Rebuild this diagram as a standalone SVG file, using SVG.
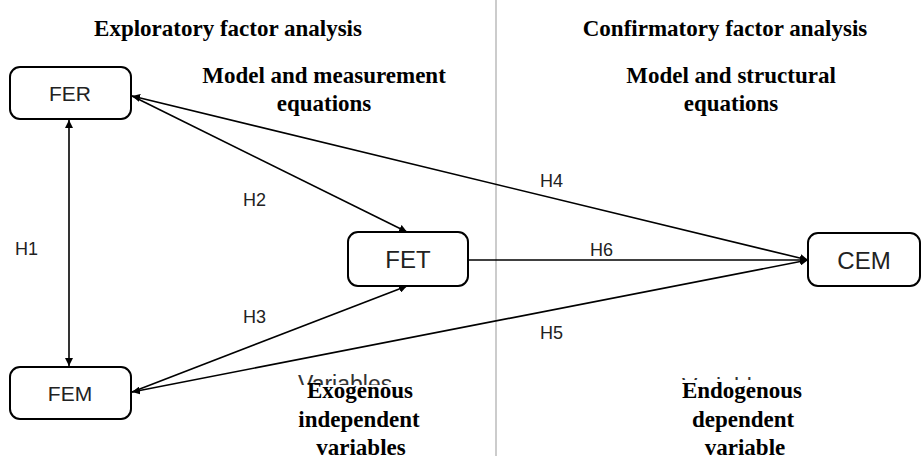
<svg xmlns="http://www.w3.org/2000/svg" width="923" height="463" viewBox="0 0 923 463">
<style>
.node rect{fill:#fff;stroke:#000;stroke-width:2}
.node text{font-family:"Liberation Sans",Arial,sans-serif;fill:#222;text-anchor:middle}
.sm{font-size:21px}
.lg{font-size:24px}
.lbl{font-family:"Liberation Sans",Arial,sans-serif;font-size:18px;fill:#222}
.hd{font-family:"Liberation Serif","Times New Roman",serif;font-weight:bold;font-size:23px;fill:#000;text-anchor:middle}
.ghost{font-family:"Liberation Sans",Arial,sans-serif;font-size:23px;fill:#333}
.conn line{stroke:#000;stroke-width:1.6}
</style>
<defs>
<marker id="ah" viewBox="0 0 10 10" refX="10" refY="5" markerWidth="8" markerHeight="8" orient="auto-start-reverse" markerUnits="userSpaceOnUse">
<path d="M0,0 L10,5 L0,10 z" fill="#000"/>
</marker>
</defs>
<rect width="923" height="463" fill="#fff"/>
<line x1="496" y1="0" x2="496" y2="456" stroke="#999" stroke-width="1"/>
<text class="hd" x="228" y="36">Exploratory factor analysis</text>
<text class="hd" x="725" y="36">Confirmatory factor analysis</text>
<text class="hd" x="324" y="83">Model and measurement</text>
<text class="hd" x="324" y="111">equations</text>
<text class="hd" x="731" y="83">Model and structural</text>
<text class="hd" x="731" y="111">equations</text>
<text class="ghost" x="298" y="392">Variables</text>
<text class="ghost" x="682" y="395">Variables</text>
<rect x="290" y="385" width="140" height="14" fill="#fff"/>
<rect x="670" y="380" width="140" height="18" fill="#fff"/>
<text class="hd" x="360" y="398">Exogenous</text>
<text class="hd" x="359" y="427">independent</text>
<text class="hd" x="361" y="455">variables</text>
<text class="hd" x="742" y="398">Endogenous</text>
<text class="hd" x="743" y="427">dependent</text>
<text class="hd" x="745" y="455">variable</text>
<g id="connectors" class="conn">
<line x1="69" y1="120" x2="69" y2="366" marker-start="url(#ah)" marker-end="url(#ah)"/>
<line x1="132" y1="96" x2="407" y2="232" marker-end="url(#ah)"/>
<line x1="132" y1="392" x2="407" y2="286" marker-end="url(#ah)"/>
<line x1="132" y1="96" x2="808" y2="260" marker-start="url(#ah)" marker-end="url(#ah)"/>
<line x1="132" y1="392" x2="808" y2="260" marker-start="url(#ah)" marker-end="url(#ah)"/>
<line x1="468" y1="260" x2="808" y2="260" marker-end="url(#ah)"/>
</g>
<text class="lbl" x="15" y="255">H1</text>
<text class="lbl" x="243" y="206">H2</text>
<text class="lbl" x="243" y="323">H3</text>
<text class="lbl" x="540" y="187">H4</text>
<text class="lbl" x="540" y="339">H5</text>
<text class="lbl" x="590" y="256">H6</text>
<g id="FER" class="node"><rect x="10" y="67" width="121" height="52" rx="10"/><text class="sm" x="70" y="101">FER</text></g>
<g id="FEM" class="node"><rect x="10" y="367" width="121" height="52" rx="10"/><text class="sm" x="70" y="401">FEM</text></g>
<g id="FET" class="node"><rect x="348" y="232" width="120" height="54" rx="10"/><text class="lg" x="408" y="268">FET</text></g>
<g id="CEM" class="node"><rect x="808" y="233" width="112" height="53" rx="10"/><text class="lg" x="864" y="269">CEM</text></g>
</svg>
